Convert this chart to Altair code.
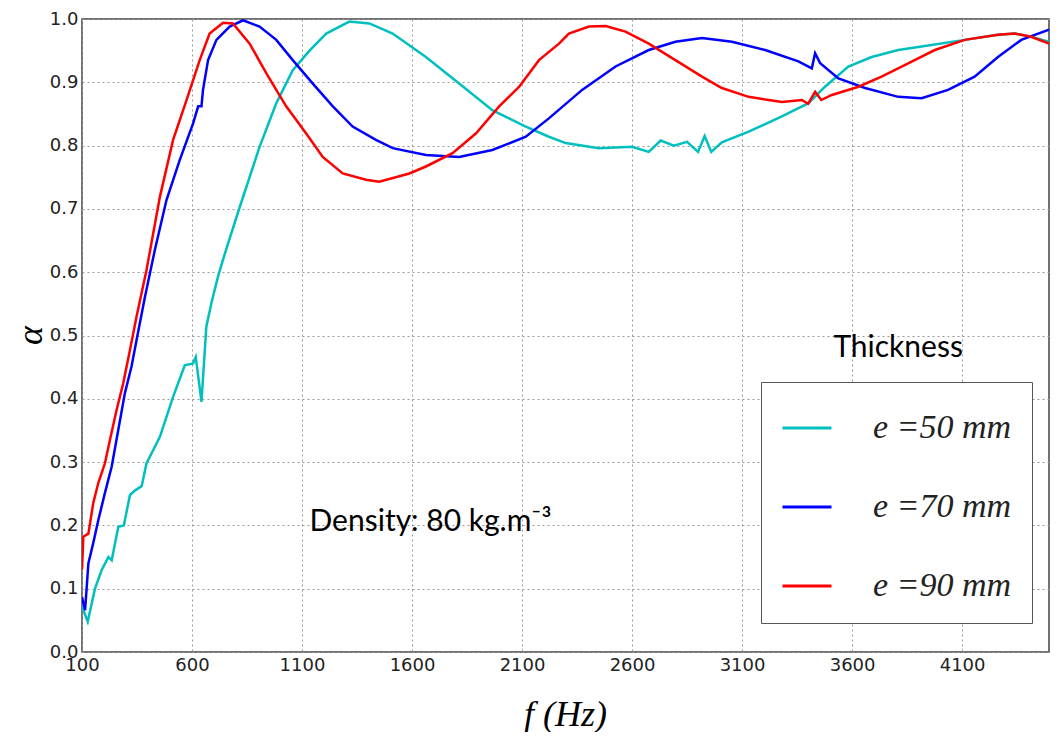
import altair as alt
import pandas as pd

# ---- data ----
series_names = ["e =50 mm", "e =70 mm", "e =90 mm"]
series_colors = ["#00bfbf", "#0000ff", "#ff0000"]

f50 = [100, 126, 159, 190, 220, 235, 265, 290, 318, 340, 371, 393, 454, 514, 567,
       605, 617, 643, 665, 688, 718, 756, 817, 907, 983, 1058, 1134, 1210, 1315,
       1406, 1512, 1663, 1814, 1965, 2117, 2222, 2298, 2449, 2600, 2676, 2730,
       2790, 2850, 2900, 2930, 2960, 3008, 3130, 3281, 3402, 3477, 3583, 3689,
       3810, 3961, 4112, 4263, 4339, 4414, 4495]
a50 = [0.072, 0.048, 0.100, 0.130, 0.150, 0.145, 0.198, 0.200, 0.248, 0.255,
       0.262, 0.298, 0.340, 0.403, 0.453, 0.456, 0.466, 0.395, 0.514, 0.551,
       0.593, 0.637, 0.703, 0.798, 0.867, 0.919, 0.950, 0.977, 0.996, 0.993,
       0.977, 0.940, 0.898, 0.856, 0.830, 0.814, 0.804, 0.796, 0.798, 0.790,
       0.808, 0.800, 0.806, 0.790, 0.815, 0.790, 0.805, 0.822, 0.846, 0.867,
       0.893, 0.925, 0.940, 0.951, 0.959, 0.967, 0.975, 0.977, 0.972, 0.964]

f70 = [100, 114, 129, 151, 174, 204, 235, 265, 295, 325, 348, 386, 431, 484, 544,
       605, 628, 643, 650, 673, 711, 771, 832, 907, 983, 1058, 1149, 1240, 1330,
       1436, 1512, 1663, 1814, 1965, 2117, 2222, 2373, 2525, 2676, 2797, 2918,
       3054, 3205, 3356, 3417, 3432, 3455, 3538, 3659, 3810, 3916, 4036, 4157,
       4263, 4369, 4495]
a70 = [0.087, 0.066, 0.140, 0.172, 0.208, 0.251, 0.293, 0.351, 0.409, 0.451,
       0.493, 0.561, 0.635, 0.714, 0.777, 0.835, 0.862, 0.862, 0.888, 0.935,
       0.967, 0.988, 0.998, 0.988, 0.967, 0.935, 0.898, 0.862, 0.830, 0.809,
       0.796, 0.785, 0.782, 0.793, 0.814, 0.843, 0.888, 0.925, 0.951, 0.964,
       0.970, 0.964, 0.951, 0.933, 0.922, 0.946, 0.930, 0.906, 0.891, 0.877,
       0.875, 0.888, 0.909, 0.940, 0.967, 0.983]

f90 = [100, 106, 129, 151, 174, 204, 227, 257, 287, 318, 348, 393, 454, 514, 575,
       635, 680, 741, 786, 862, 938, 1028, 1119, 1194, 1285, 1391, 1451, 1588,
       1663, 1784, 1890, 1996, 2087, 2177, 2268, 2313, 2404, 2480, 2570, 2676,
       2797, 2918, 3008, 3130, 3281, 3372, 3400, 3432, 3460, 3508, 3629, 3734,
       3855, 3976, 4112, 4263, 4339, 4414, 4495]
a90 = [0.130, 0.182, 0.187, 0.235, 0.267, 0.298, 0.335, 0.382, 0.424, 0.477,
       0.530, 0.603, 0.719, 0.809, 0.872, 0.935, 0.977, 0.994, 0.993, 0.961,
       0.914, 0.862, 0.819, 0.782, 0.756, 0.746, 0.743, 0.756, 0.767, 0.788,
       0.819, 0.862, 0.893, 0.935, 0.961, 0.977, 0.988, 0.989, 0.980, 0.961,
       0.935, 0.909, 0.891, 0.877, 0.869, 0.872, 0.866, 0.885, 0.872, 0.880,
       0.893, 0.909, 0.930, 0.951, 0.967, 0.975, 0.977, 0.972, 0.961]

x_ticks = [100, 600, 1100, 1600, 2100, 2600, 3100, 3600, 4100]
y_ticks = [0.0, 0.1, 0.2, 0.3, 0.4, 0.5, 0.6, 0.7, 0.8, 0.9, 1.0]
x_domain = [100, 4495]

notes = ["Density: 80 kg.m\u207b\u00b3", "Thickness"]
note_f = [1134, 3515]
note_a = [0.205, 0.48]

# ---- tables ----
rows = []
for name, fs, als in zip(series_names, [f50, f70, f90], [a50, a70, a90]):
    for f, a in zip(fs, als):
        rows.append({"series": name, "f": f, "alpha": a})
df = pd.DataFrame(rows)
df_notes = pd.DataFrame({"text": notes, "f": note_f, "alpha": note_a})

x_scale = alt.Scale(domain=x_domain, nice=False, zero=False)
y_scale = alt.Scale(domain=[0, 1], nice=False)

lines = alt.Chart(df).mark_line(strokeWidth=2.5, clip=True).encode(
    x=alt.X("f:Q", scale=x_scale,
            axis=alt.Axis(values=x_ticks, format="d", title="f (Hz)",
                          labelFlush=False,
                          titleX=483, titleY=62, titleBaseline="middle",
                          titleFont="Liberation Serif", titleFontStyle="italic",
                          titleFontWeight="normal", titleFontSize=36,
                          labelPadding=4)),
    y=alt.Y("alpha:Q", scale=y_scale,
            axis=alt.Axis(values=y_ticks, format=".1f", title="\u03b1",
                          titleX=-52, titleY=316, titleAngle=270,
                          titleAlign="center", titleBaseline="middle",
                          titleFont="Liberation Serif", titleFontStyle="italic",
                          titleFontWeight="normal", titleFontSize=36,
                          labelPadding=4)),
    color=alt.Color("series:N",
                    scale=alt.Scale(domain=series_names, range=series_colors),
                    legend=alt.Legend(title=None, orient="none",
                                      legendX=679, legendY=363,
                                      symbolType="stroke", symbolSize=2400,
                                      symbolStrokeWidth=3, labelFontSize=34,
                                      labelFont="Liberation Serif",
                                      labelFontStyle="italic",
                                      labelColor="#222", labelOffset=40,
                                      rowPadding=36, padding=20,
                                      strokeColor="#555", fillColor="white",
                                      labelLimit=400)),
    detail="series:N",
)

text = alt.Chart(df_notes).mark_text(
    align="left", baseline="middle", font="Lato", fontSize=30, color="black"
).encode(
    x=alt.X("f:Q", scale=x_scale),
    y=alt.Y("alpha:Q", scale=y_scale),
    text="text:N",
)

chart = alt.layer(lines, text).properties(
    width=967,
    height=633,
    padding={"left": 74, "top": 11, "right": 6, "bottom": 80},
    autosize=alt.AutoSizeParams(type="none"),
).configure_view(
    stroke="#444", strokeWidth=1.5
).configure_axis(
    domain=False, ticks=False, grid=True, gridColor="#999",
    gridDash=[2, 3], gridWidth=1, labelFont="DejaVu Sans", labelFontSize=18,
    labelColor="#222", labelOverlap=False,
).configure_axisX(
    labelAngle=0,
)

chart.save("out.html", embed_options={"renderer": "svg", "actions": False})
